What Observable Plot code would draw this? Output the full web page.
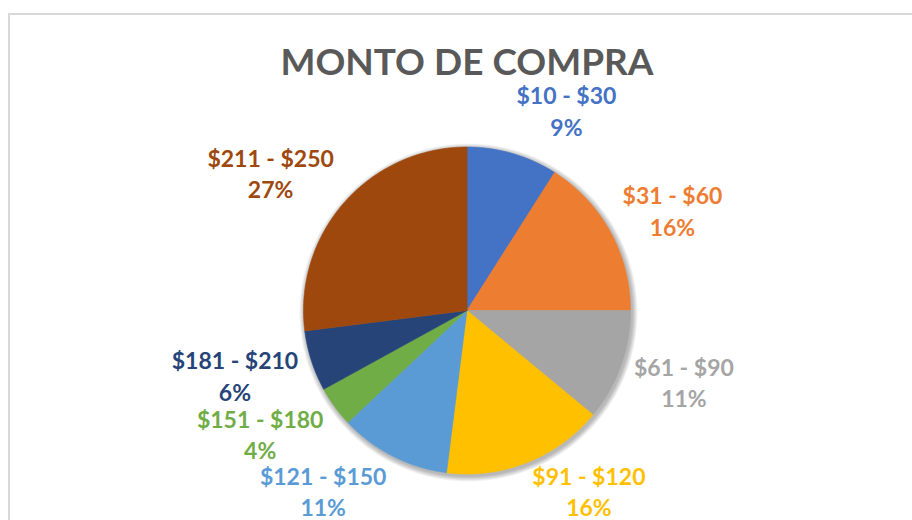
<!DOCTYPE html>
<html>
<head>
<meta charset="utf-8">
<script src="https://cdn.jsdelivr.net/npm/d3@7"></script>
<script src="https://cdn.jsdelivr.net/npm/@observablehq/plot@0.6"></script>
<style>
  html, body { margin: 0; padding: 0; background: #fff; overflow: hidden; }
  #wrap { position: relative; width: 912px; height: 520px; }
  #border { position: absolute; left: 8px; top: 13px; width: 2000px; height: 2000px;
            border-left: 2px solid #d9d9d9; border-top: 2px solid #d9d9d9; }
  #chart { position: absolute; left: 0; top: 0; }
</style>
</head>
<body>
<div id="wrap"><div id="border"></div><div id="chart"></div></div>
<script>
// ---- data ----
const title = "MONTO DE COMPRA";
const categories = ["$10 - $30", "$31 - $60", "$61 - $90", "$91 - $120", "$121 - $150", "$151 - $180", "$181 - $210", "$211 - $250"];
const shares = [9, 16, 11, 16, 11, 4, 6, 27];
const colors = ["#4472C4", "#ED7D31", "#A5A5A5", "#FFC000", "#5B9BD5", "#70AD47", "#264478", "#9E480E"];

// ---- layout / style ----
const W = 912, H = 520;
const R = 163.5, cx = 466.5, cy = 310;
const labelFont = 23, labelLH = 1.37, labelGap = 14;

const rows = categories.map((c, i) => ({category: c, share: shares[i]}));
const arcs = d3.pie().sort(null).value(d => d.share)(rows);

// slice outlines in unit-radius coordinates (angle clockwise from top)
const pts = [];
for (const a of arcs) {
  const n = Math.max(2, Math.ceil((a.endAngle - a.startAngle) / 0.01));
  pts.push({category: a.data.category, x: 0, y: 0});
  for (let k = 0; k <= n; k++) {
    const t = a.startAngle + (a.endAngle - a.startAngle) * k / n;
    pts.push({category: a.data.category, x: Math.sin(t), y: Math.cos(t)});
  }
  pts.push({category: a.data.category, x: 0, y: 0});
}

// soft shadow rings around the whole pie
const shadow = [];
for (let k = 1; k <= 6; k++) {
  const rr = 1 + k * 0.9 / R;
  for (let j = 0; j <= 360; j++) {
    const t = j * Math.PI / 180;
    shadow.push({ring: k, x: rr * Math.sin(t) + 1.5 / R, y: rr * Math.cos(t) - 2 / R});
  }
}

// label positions: outside end, box edge aligned with the anchor point,
// kept inside the chart area at the bottom
const ctx = document.createElement("canvas").getContext("2d");
ctx.font = `bold ${labelFont}px Lato`;
const labels = arcs.map(a => {
  const th = (a.startAngle + a.endAngle) / 2;
  const text = `${a.data.category}\n${a.data.share}%`;
  const w = Math.max(...text.split("\n").map(s => ctx.measureText(s).width));
  const h = 2 * labelFont * labelLH;
  const s = Math.sin(th), c = Math.cos(th);
  let py = cy - (R + labelGap + h / 2) * c;          // pixel y of block centre
  py = Math.min(py, H - h / 2 + 1.5);
  return {
    category: a.data.category,
    text,
    x: ((R + labelGap) * s + Math.sign(s) * w / 2) / R,
    y: (cy - py) / R
  };
});

const chart = Plot.plot({
  width: W,
  height: H,
  margin: 0,
  style: {background: "transparent", fontFamily: "Lato"},
  x: {domain: [-1, 1], range: [cx - R, cx + R], axis: null},
  y: {domain: [-1, 1], range: [cy + R, cy - R], axis: null},
  color: {domain: categories, range: colors},
  marks: [
    Plot.line(shadow, {x: "x", y: "y", z: "ring", fill: "black", fillOpacity: 0.05, stroke: "none"}),
    Plot.line(pts, {x: "x", y: "y", z: "category", fill: "category", stroke: "category",
                    strokeWidth: 0.6, curve: "linear"}),
    Plot.text(labels, {x: "x", y: "y", text: "text", fill: "category",
                       fontSize: labelFont, fontWeight: "bold", lineHeight: labelLH}),
    Plot.text([title], {x: () => 0, frameAnchor: "top", lineAnchor: "top", dy: 48.5,
                        text: d => d, fontSize: 37, fontWeight: "bold", fill: "#595959"})
  ]
});
document.getElementById("chart").appendChild(chart);
</script>
</body>
</html>
